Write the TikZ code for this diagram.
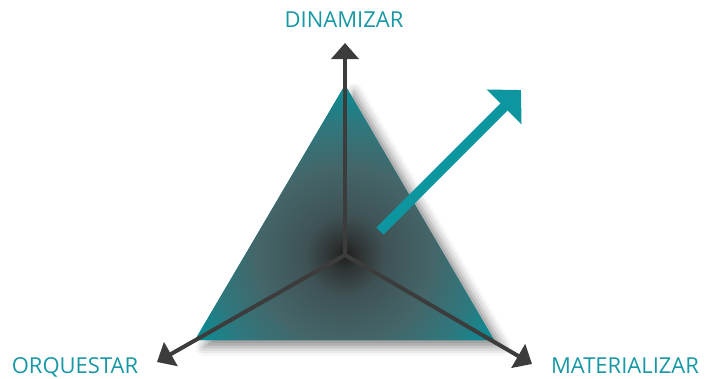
\documentclass[tikz,border=0pt]{standalone}
\usepackage{fontspec}
\setmainfont{Open Sans}
\usepackage{tikz}
\usetikzlibrary{arrows.meta, shadows.blur}
\definecolor{tealmain}{RGB}{14,150,160}
\definecolor{tealedge}{RGB}{4,142,151}
\definecolor{tealtext}{RGB}{24,152,164}
\definecolor{axisgray}{RGB}{60,60,60}
\pgfdeclareradialshading{corefade}{\pgfpoint{0bp}{0bp}}{%
  color(0bp)=(black!88);
  color(1.8bp)=(rgb,255:red,47;green,51;blue,52);
  color(5bp)=(rgb,255:red,63;green,82;blue,85);
  color(11bp)=(rgb,255:red,68;green,102;blue,105);
  color(16.5bp)=(rgb,255:red,46;green,120;blue,126);
  color(21.5bp)=(tealedge);
  color(50bp)=(tealedge)}
\tikzset{
  axisarr/.style={-{Triangle[length=16pt,width=27pt]}, line width=4pt, color=axisgray},
  growarr/.style={-{Triangle[length=24pt,width=48pt]}, line width=10pt, color=tealmain},
  lbl/.style={font=\fontsize{22}{26}\selectfont, text=tealtext, inner sep=0pt},
}

\begin{document}
\begin{tikzpicture}[x=1pt, y=-1pt]
  \useasboundingbox (0,0) rectangle (705,378);

  % corners of the triangle and the hub
  \coordinate (apex)  at (345,85);
  \coordinate (left)  at (195,340);
  \coordinate (right) at (494,340);
  \coordinate (hub)   at (345,255);

  % triangle with shadow and dark core
  \fill[tealedge, blur shadow={shadow xshift=9pt, shadow yshift=-7pt,
        shadow blur radius=9pt, shadow opacity=45}]
    (apex) -- (right) -- (left) -- cycle;
  \begin{scope}
    \clip (apex) -- (right) -- (left) -- cycle;
    \shade[shading=corefade] (hub) circle (200);
  \end{scope}

  % labels
  \node[lbl] (din) at (344,20)  {DINAMIZAR};
  \node[lbl] (orq) at (75,367)  {ORQUESTAR};
  \node[lbl] (mat) at (625,366) {MATERIALIZAR};

  % arrow ends
  \coordinate (dinEnd) at (345,43);
  \coordinate (orqEnd) at (157,362);
  \coordinate (matEnd) at (532,364);
  \coordinate (growTail) at (380,231);
  \coordinate (growTip)  at (521,90);

  \draw[axisarr] (hub) -- (dinEnd);
  \draw[axisarr] (hub) -- (orqEnd);
  \draw[axisarr] (hub) -- (matEnd);
  \draw[growarr] (growTail) -- (growTip);
\end{tikzpicture}
\end{document}
